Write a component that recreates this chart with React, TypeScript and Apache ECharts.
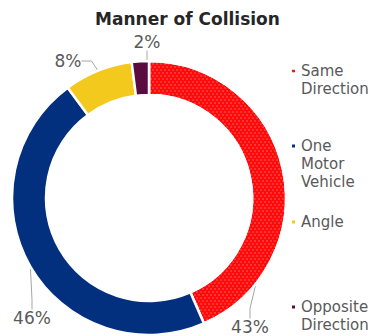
import React, { useEffect, useRef } from "react";
import * as echarts from "echarts";

const categories = ["Same Direction", "One Motor Vehicle", "Angle", "Opposite Direction"];
const values = [43, 46, 8, 2];
const colors = ["#FF0A0A", "#02307F", "#F2C91C", "#5A0C40"];
const legendLines = [["Same", "Direction"], ["One", "Motor", "Vehicle"], ["Angle"], ["Opposite", "Direction"]];
const legendTops = [44, 101, 213, 280];
const labelPos = [[250, 327], [32, 318], [68, 61], [147, 42]];

const FONT = "DejaVu Sans";

export default function App() {
  const ref = useRef<HTMLDivElement>(null);
  useEffect(() => {
    document.body.style.margin = "0";
    const chart = echarts.init(ref.current!, null, { renderer: "svg" });
    const legends = categories.map((name, i) => {
      const lines = legendLines[i];
      const pad = Array(lines.length - 1).fill("").join("\n");
      const prefix = lines.length > 1 ? pad + "\n" : "";
      return {
        orient: "vertical",
        left: 290,
        top: legendTops[i],
        padding: 0,
        itemWidth: 5,
        itemHeight: 5,
        icon: "rect",
        data: [name],
        selectedMode: false,
        formatter: () => prefix + lines.join("\n"),
        textStyle: { fontFamily: FONT, fontSize: 15, lineHeight: 18, color: "#595959" },
      };
    });
    chart.setOption({
      animation: false,
      backgroundColor: "#ffffff",
      title: {
        text: "Manner of Collision",
        left: "center",
        top: 9,
        padding: 0,
        textStyle: { fontFamily: FONT, fontSize: 17, fontWeight: "bold", color: "#262626", lineHeight: 20 },
      },
      legend: legends,
      series: [
        {
          type: "pie",
          startAngle: 90,
          clockwise: true,
          center: [149, 198],
          radius: [103, 137],
          avoidLabelOverlap: false,
          itemStyle: { borderColor: "#ffffff", borderWidth: 2.5 },
          label: {
            show: true,
            position: "outside",
            formatter: "{c}%",
            fontFamily: FONT,
            fontSize: 17,
            color: "#595959",
          },
          labelLine: { show: true, length: 10, length2: 10, lineStyle: { color: "#A6A6A6", width: 1 } },
          labelLayout: (p: any) => ({
            x: labelPos[p.dataIndex][0],
            y: labelPos[p.dataIndex][1],
            align: "center",
            verticalAlign: "middle",
          }),
          data: categories.map((name, i) => ({
            name,
            value: values[i],
            itemStyle: {
              color: colors[i],
              ...(i === 0
                ? {
                    decal: {
                      symbol: "circle",
                      symbolSize: 0.7,
                      color: "rgba(255,190,190,0.55)",
                      dashArrayX: [[2, 2], [0, 2, 2, 0]],
                      dashArrayY: [2, 1],
                    },
                  }
                : {}),
            },
          })),
        },
      ],
    });
    return () => chart.dispose();
  }, []);
  return <div ref={ref} style={{ width: 375, height: 336 }} />;
}
